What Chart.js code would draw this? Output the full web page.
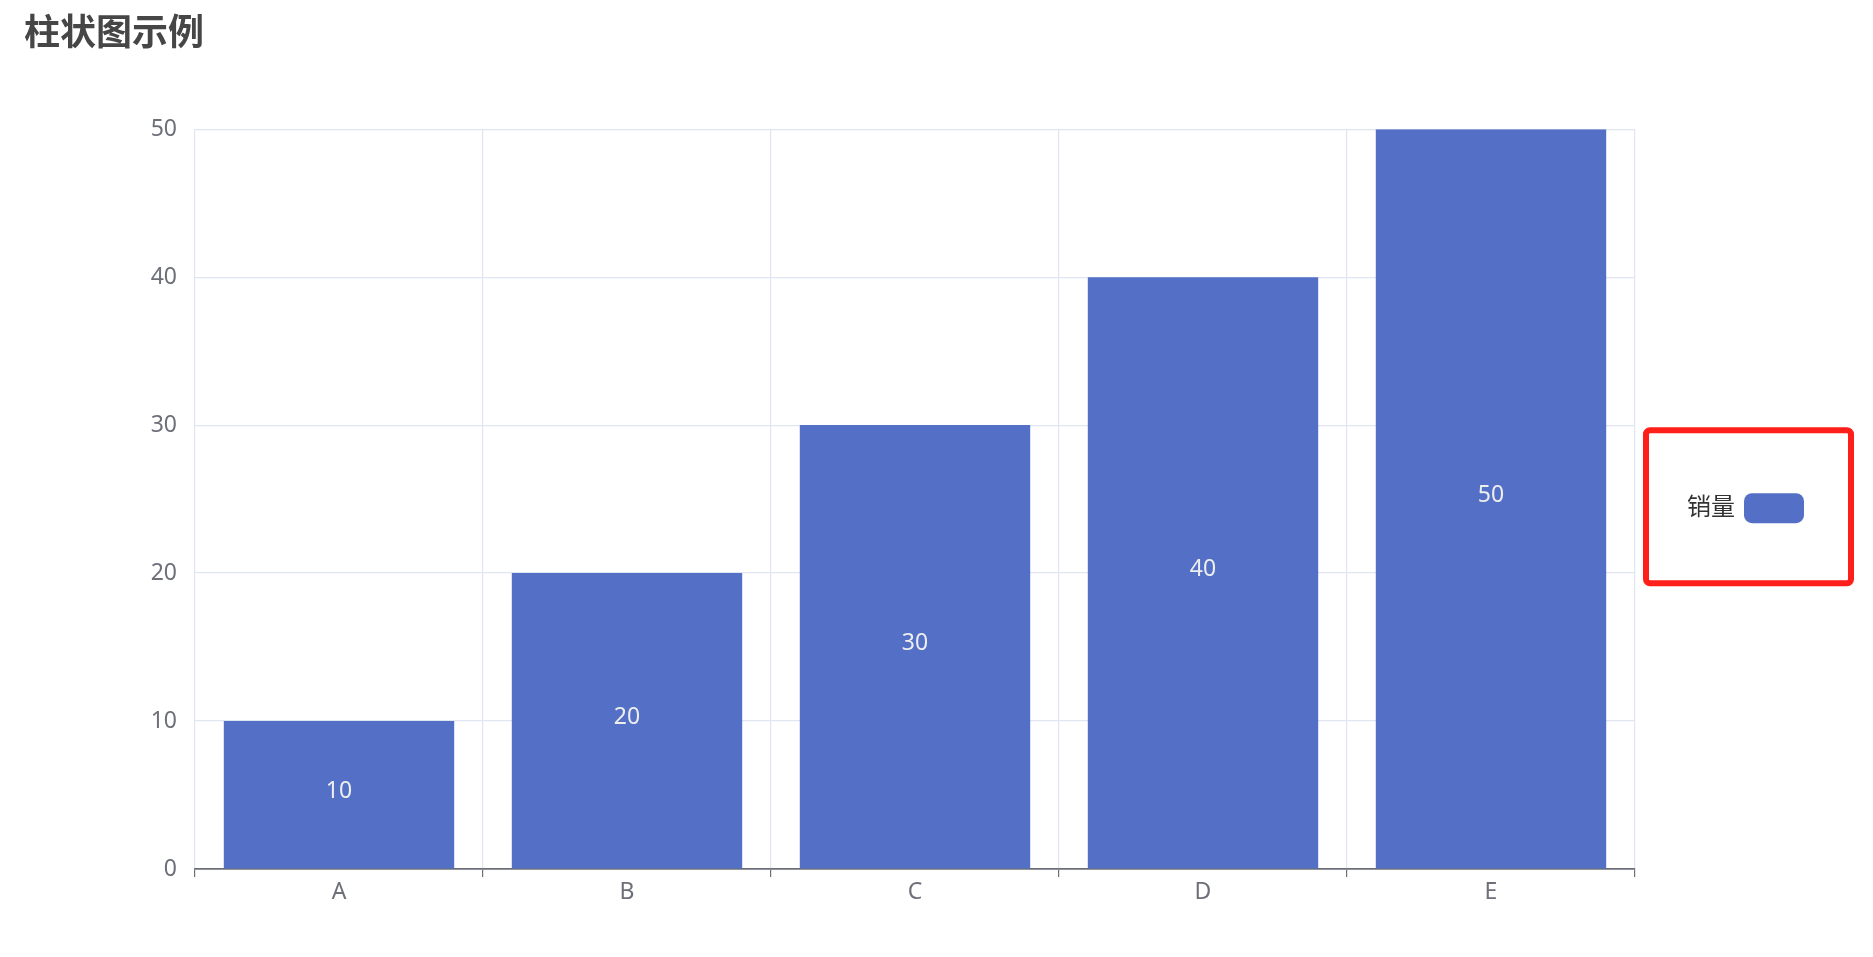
<!DOCTYPE html>
<html>
<head>
<meta charset="utf-8">
<title>柱状图示例</title>
<script src="https://cdn.jsdelivr.net/npm/chart.js@4/dist/chart.umd.min.js"></script>
<style>
  html, body { margin: 0; padding: 0; background: #fff; }
  #wrap { width: 1873px; height: 957px; }
</style>
</head>
<body>
<div id="wrap"><canvas id="chart"></canvas></div>
<script>
const categories = ['A', 'B', 'C', 'D', 'E'];
const salesValues = [10, 20, 30, 40, 50];
const yTicks = [0, 10, 20, 30, 40, 50];

const FONT = '"Noto Sans", "Noto Sans CJK SC", sans-serif';
const BAR_COLOR = '#5470C6';

// value labels inside the bars (no datalabels plugin available)
const barLabels = {
  id: 'barLabels',
  afterDatasetsDraw(chart) {
    const ctx = chart.ctx;
    ctx.save();
    ctx.font = '23px ' + FONT;
    ctx.fillStyle = '#eeeeee';
    ctx.textAlign = 'center';
    ctx.textBaseline = 'middle';
    chart.data.datasets.forEach((ds, i) => {
      chart.getDatasetMeta(i).data.forEach((bar, j) => {
        const mid = (bar.y + bar.base) / 2;
        ctx.fillText(String(ds.data[j]), bar.x, mid - 3);
      });
    });
    ctx.restore();
  }
};

// legend on the right: text first, then swatch, inside a red frame
const sideLegend = {
  id: 'sideLegend',
  afterDraw(chart) {
    const ctx = chart.ctx;
    const area = chart.chartArea;
    const ds = chart.data.datasets[0];
    const x0 = area.right + 11, y0 = area.top + 301;
    const w = 205, h = 153;

    ctx.save();
    ctx.strokeStyle = '#FF1F1A';
    ctx.lineWidth = 6;
    ctx.beginPath();
    ctx.roundRect(x0, y0, w, h, 4);
    ctx.stroke();

    const cy = y0 + 78;
    ctx.font = '24px ' + FONT;
    ctx.fillStyle = '#333333';
    ctx.textAlign = 'right';
    ctx.textBaseline = 'middle';
    ctx.fillText(ds.label, x0 + 89, cy);

    ctx.fillStyle = ds.backgroundColor;
    ctx.beginPath();
    ctx.roundRect(x0 + 98, cy - 15, 60, 30, 8);
    ctx.fill();
    ctx.restore();
  }
};

new Chart(document.getElementById('chart'), {
  type: 'bar',
  data: {
    labels: categories,
    datasets: [{
      label: '销量',
      data: salesValues,
      backgroundColor: BAR_COLOR,
      barPercentage: 0.8,
      categoryPercentage: 1.0
    }]
  },
  options: {
    responsive: true,
    maintainAspectRatio: false,
    animation: false,
    layout: { padding: { left: 24, right: 238, top: 0, bottom: 0 } },
    plugins: {
      legend: { display: false },
      tooltip: { enabled: false },
      title: {
        display: true,
        text: '柱状图示例',
        align: 'start',
        color: '#464646',
        font: { family: '"Noto Sans CJK SC", sans-serif', size: 36, weight: 'bold', lineHeight: 1.2 },
        padding: { top: 10, bottom: 76 }
      }
    },
    scales: {
      x: {
        afterFit(axis) { axis.height = 88; },
        grid: {
          offset: true,
          color: '#E0E6F1',
          lineWidth: 1.2,
          tickColor: '#6E7079',
          tickLength: 8
        },
        border: { color: '#6E7079', width: 1.8 },
        ticks: { color: '#6E7079', font: { family: FONT, size: 23 }, padding: 2 }
      },
      y: {
        min: 0,
        max: 50,
        afterFit(axis) { axis.width = 171; },
        afterBuildTicks(axis) { axis.ticks = yTicks.map(v => ({ value: v })); },
        grid: { color: '#E0E6F1', lineWidth: 1.2, drawTicks: false },
        border: { display: false },
        ticks: { color: '#6E7079', font: { family: FONT, size: 23 }, padding: 18 }
      }
    }
  },
  plugins: [barLabels, sideLegend]
});
</script>
</body>
</html>
